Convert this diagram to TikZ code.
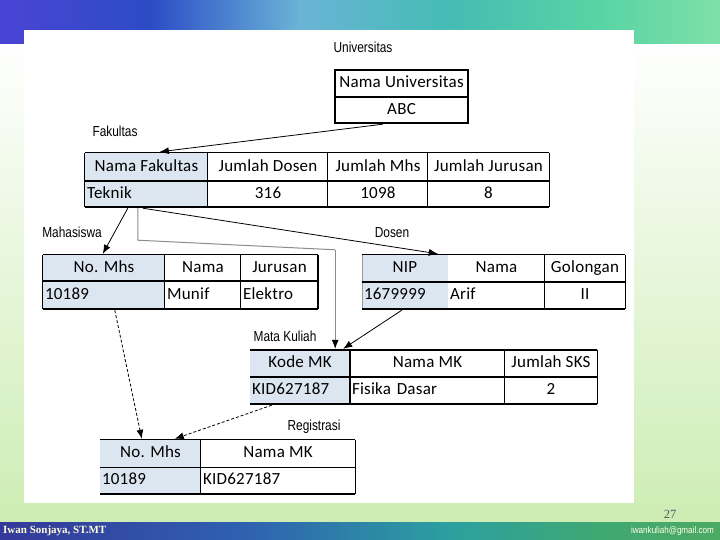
\documentclass[tikz,border=0pt]{standalone}
\usepackage{fontspec}
\setmainfont{Carlito}[LetterSpace=1.5]
\newfontfamily\labfont{Liberation Sans}[FakeStretch=0.82]
\newfontfamily\footserif{Liberation Serif}
\newfontfamily\footsans{Liberation Sans}[FakeStretch=0.85]
\usetikzlibrary{arrows.meta,calc}
\definecolor{hdr}{HTML}{DCE6F1}
\definecolor{bandA}{HTML}{4A44D4}
\definecolor{bandB}{HTML}{2C4CC6}
\definecolor{bandC}{HTML}{6AB4D6}
\definecolor{bandD}{HTML}{44BCB4}
\definecolor{bandE}{HTML}{58D4A4}
\definecolor{bandF}{HTML}{7EE0A8}
\definecolor{footA}{HTML}{34389A}
\definecolor{footB}{HTML}{2F62B0}
\definecolor{footC}{HTML}{2CA0A0}
\definecolor{footD}{HTML}{3FA872}
\definecolor{footE}{HTML}{4CAA62}
\definecolor{paleG}{HTML}{CDEDB4}
\newcommand\tcell[8]{%
  \pgfmathsetmacro\cw{#4-#2}\pgfmathsetmacro\ch{#5-#3}\pgfmathsetmacro\tw{#4-#2-4}%
  \node[cellsty, fill=#7, minimum width=\cw pt, minimum height=\ch pt, #6]
    (#1) at ({(#2+#4)/2},{(#3+#5)/2}) {#8};}
\begin{document}
\begin{tikzpicture}[x=1pt,y=-1pt,
  cellsty/.style={inner xsep=2pt, inner ysep=0pt, text height=12pt, text depth=3.5pt, font=\fontsize{17}{19}\selectfont},
  cc/.style={},
  ll/.style={text width=\tw pt, align=left},
  lab/.style={font=\labfont\fontsize{14.5}{16}\selectfont, inner sep=0pt},
  thinb/.style={line width=1pt},
  thickb/.style={line width=2pt},
  conn/.style={line width=0.8pt, -{Latex[length=9pt,width=7pt]}},
  dconn/.style={conn, dash pattern=on 3pt off 2pt}]
\useasboundingbox (0,0) rectangle (720,540);
% background
\shade[top color=white, bottom color=paleG] (0,40) rectangle (720,522);
\shade[left color=bandA, right color=bandB] (0,0) rectangle (150,44);
\shade[left color=bandB, right color=bandC] (150,0) rectangle (300,44);
\shade[left color=bandC, right color=bandD] (300,0) rectangle (450,44);
\shade[left color=bandD, right color=bandE] (450,0) rectangle (600,44);
\shade[left color=bandE, right color=bandF] (600,0) rectangle (720,44);
\shade[left color=footA, right color=footB] (0,522) rectangle (250,540);
\shade[left color=footB, right color=footC] (250,522) rectangle (450,540);
\shade[left color=footC, right color=footD] (450,522) rectangle (600,540);
\shade[left color=footD, right color=footE] (600,522) rectangle (720,540);
\fill[white] (24,30) rectangle (634,503);
\node[anchor=west, inner sep=0pt, text=yellow!15, font=\footserif\bfseries\fontsize{11}{12}\selectfont] (auth) at (3,531) {Iwan Sonjaya, ST.MT};
\node[anchor=east, inner sep=0pt, text=white!90!yellow, font=\footsans\fontsize{9.5}{11}\selectfont] (mail) at (714,531) {iwankuliah@gmail.com};
\node[inner sep=0pt, text=black!65, font=\footserif\fontsize{12.5}{13}\selectfont] (pg) at (670,514) {27};
% labels
\node[lab] (lu) at (363,47) {Universitas};
\node[lab] (lf) at (115,131) {Fakultas};
\node[lab] (lm) at (72,232) {Mahasiswa};
\node[lab] (ld) at (392,233) {Dosen};
\node[lab] (lk) at (285,336) {Mata Kuliah};
\node[lab] (lr) at (314,427) {Registrasi};
% Universitas
\tcell{u1}{335}{70}{468}{97}{cc}{none}{Nama Universitas}
\tcell{u2}{335}{97}{468}{123}{cc}{none}{ABC}
\draw[thickb] (u1.north west) rectangle (u2.south east);
\draw[thickb] (u1.south west) -- (u1.south east);
% Fakultas
\tcell{fk1}{85}{153}{208}{181}{cc}{hdr}{Nama Fakultas}
\tcell{fk2}{208}{153}{328}{181}{cc}{none}{Jumlah Dosen}
\tcell{fk3}{328}{153}{428}{181}{cc}{none}{Jumlah Mhs}
\tcell{fk4}{428}{153}{549}{181}{cc}{none}{Jumlah Jurusan}
\tcell{fk5}{85}{181}{208}{207}{ll}{hdr}{Teknik}
\tcell{fk6}{208}{181}{328}{207}{cc}{none}{316}
\tcell{fk7}{328}{181}{428}{207}{cc}{none}{1098}
\tcell{fk8}{428}{181}{549}{207}{cc}{none}{8}
\draw[thinb] (fk1.north west) -- (fk4.north east) (fk1.north west) -- (fk5.south west)
  (fk2.north west) -- (fk6.south west) (fk3.north west) -- (fk7.south west)
  (fk4.north west) -- (fk8.south west) (fk4.north east) -- (fk8.south east);
\draw[thickb] (fk1.south west) -- (fk4.south east) (fk5.south west) -- (fk8.south east);
% Mahasiswa
\tcell{m1}{43}{255}{165}{281}{cc}{hdr}{No. Mhs}
\tcell{m2}{165}{255}{241}{281}{cc}{none}{Nama}
\tcell{m3}{241}{255}{318}{281}{cc}{none}{Jurusan}
\tcell{m4}{43}{281}{165}{309}{ll}{hdr}{10189}
\tcell{m5}{165}{281}{241}{309}{ll}{none}{Munif}
\tcell{m6}{241}{281}{318}{309}{ll}{none}{Elektro}
\draw[thinb] (m1.north west) -- (m3.north east) (m1.north west) -- (m4.south west)
  (m2.north west) -- (m5.south west) (m3.north west) -- (m6.south west);
\draw[thickb] (m1.south west) -- (m3.south east) (m4.south west) -- (m6.south east)
  (m3.north east) -- (m6.south east);
% Dosen
\tcell{d1}{362}{255}{448}{282}{cc}{hdr}{NIP}
\tcell{d2}{448}{255}{545}{282}{cc}{none}{Nama}
\tcell{d3}{545}{255}{625}{282}{cc}{none}{Golongan}
\tcell{d4}{362}{282}{448}{309}{ll}{hdr}{1679999}
\tcell{d5}{448}{282}{545}{309}{ll}{none}{Arif}
\tcell{d6}{545}{282}{625}{309}{cc}{none}{II}
\draw[thinb] (d1.north west) -- (d3.north east) (d3.north west) -- (d6.south west)
  (d3.north east) -- (d6.south east);
\draw[line width=0.5pt, black!40] (d1.north west) -- (d4.south west);
\draw[thickb] (d1.south west) -- (d3.south east) (d4.south west) -- (d6.south east);
% Mata Kuliah
\tcell{k1}{250}{350}{350}{377}{cc}{hdr}{Kode MK}
\tcell{k2}{350}{350}{505}{377}{cc}{none}{Nama MK}
\tcell{k3}{505}{350}{597}{377}{cc}{none}{Jumlah SKS}
\tcell{k4}{250}{377}{350}{404}{ll}{hdr}{KID627187}
\tcell{k5}{350}{377}{505}{404}{ll}{none}{Fisika Dasar}
\tcell{k6}{505}{377}{597}{404}{cc}{none}{2}
\draw[thickb] (k1.north west) -- (k3.north east) (k2.north west) -- (k5.south west);
\draw[thinb] (k3.north west) -- (k6.south west) (k3.north east) -- (k6.south east);
\draw[thickb] (k1.south west) -- (k3.south east) (k4.south west) -- (k6.south east);
% Registrasi
\tcell{r1}{100}{440}{201}{467}{cc}{hdr}{No. Mhs}
\tcell{r2}{201}{440}{355}{467}{cc}{none}{Nama MK}
\tcell{r3}{100}{467}{201}{494}{ll}{hdr}{10189}
\tcell{r4}{201}{467}{355}{494}{ll}{none}{KID627187}
\draw[thinb] (r1.north west) -- (r2.north east) (r2.north west) -- (r4.south west)
  (r2.north east) -- (r4.south east);
\draw[thinb] (r1.south west) -- (r2.south east);
\draw[thickb] (r3.south west) -- (r4.south east);
% connectors
\draw[conn] ($(u2.south west)+(48,1)$) -- ($(fk1.north west)+(75,-1)$);
\draw[conn] ($(fk5.south west)+(43,1)$) -- ($(m1.north west)+(60,-1)$);
\coordinate (g1) at ($(fk5.south west)+(53,1)$);
\coordinate (g2) at ($(fk5.south west)+(53,33)$);
\coordinate (g3) at ($(k1.north east)+(-15,-100)$);
\draw[line width=1pt, black!45] (g1) -- (g2) -- (g3);
\draw[conn, black!45, -{Latex[length=9pt,width=7pt,black]}] (g3) -- ($(k1.north east)+(-15,-1)$);
\draw[conn] ($(fk5.south west)+(58,1)$) -- ($(d1.north west)+(76,-1)$);
\draw[conn] ($(d4.south west)+(40,1)$) -- ($(k1.north east)+(-7,-1)$);
\draw[dconn] ($(m4.south west)+(72,1)$) -- ($(r1.north west)+(42,-1)$);
\draw[dconn] ($(k4.south west)+(22,1)$) -- ($(r1.north west)+(75,-1)$);
\end{tikzpicture}
\end{document}
